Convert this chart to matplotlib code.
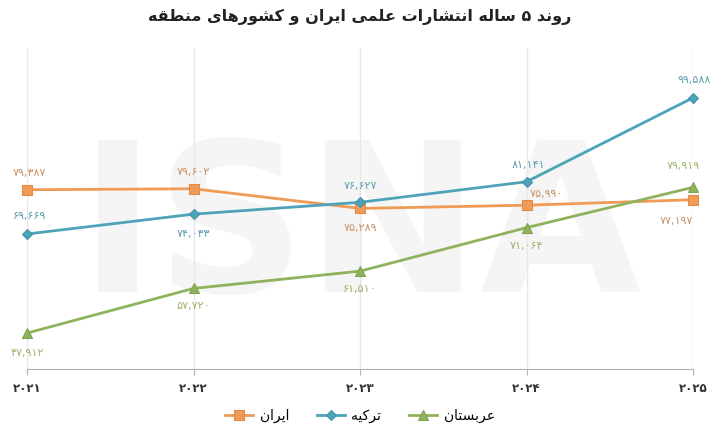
import matplotlib
matplotlib.use('Agg')
import matplotlib.pyplot as plt
import numpy as np

# data
years = [2021, 2022, 2023, 2024, 2025]
iran = [79387, 79602, 75289, 75990, 77197]
turkey = [69669, 74033, 76627, 81141, 99588]
saudi = [47912, 57720, 61510, 71064, 79919]

title = 'روند ۵ ساله انتشارات علمی ایران و کشورهای منطقه'
names = ['ایران', 'ترکیه', 'عربستان']

# minimal arabic shaping (matplotlib has no text shaping)
FORMS = {  # isolated, final, initial, medial
    'ا': ('\uFE8D', '\uFE8E', None, None),
    'ب': ('\uFE8F', '\uFE90', '\uFE91', '\uFE92'),
    'ت': ('\uFE95', '\uFE96', '\uFE97', '\uFE98'),
    'د': ('\uFEA9', '\uFEAA', None, None),
    'ر': ('\uFEAD', '\uFEAE', None, None),
    'س': ('\uFEB1', '\uFEB2', '\uFEB3', '\uFEB4'),
    'ش': ('\uFEB5', '\uFEB6', '\uFEB7', '\uFEB8'),
    'ط': ('\uFEC1', '\uFEC2', '\uFEC3', '\uFEC4'),
    'ع': ('\uFEC9', '\uFECA', '\uFECB', '\uFECC'),
    'ق': ('\uFED5', '\uFED6', '\uFED7', '\uFED8'),
    'ک': ('\uFB8E', '\uFB8F', '\uFB90', '\uFB91'),
    'ل': ('\uFEDD', '\uFEDE', '\uFEDF', '\uFEE0'),
    'م': ('\uFEE1', '\uFEE2', '\uFEE3', '\uFEE4'),
    'ن': ('\uFEE5', '\uFEE6', '\uFEE7', '\uFEE8'),
    'ه': ('\uFEE9', '\uFEEA', '\uFEEB', '\uFEEC'),
    'و': ('\uFEED', '\uFEEE', None, None),
    'ی': ('\uFBFC', '\uFBFD', '\uFBFE', '\uFBFF'),
}


def shape(s):
    out = []
    for i, c in enumerate(s):
        if c not in FORMS:
            out.append(c)
            continue
        prev = s[i - 1] if i > 0 else ''
        nxt = s[i + 1] if i + 1 < len(s) else ''
        jp = prev in FORMS and FORMS[prev][2] is not None
        jn = nxt in FORMS and FORMS[c][2] is not None
        iso, fin, ini, med = FORMS[c]
        if jp and jn:
            out.append(med)
        elif jp:
            out.append(fin)
        elif jn:
            out.append(ini)
        else:
            out.append(iso)
    return ''.join(out[::-1])


def fa_num(v):
    return str(v).translate(str.maketrans('0123456789', '۰۱۲۳۴۵۶۷۸۹'))


def fa_fmt(v):
    return fa_num(f'{v:,}')


plt.rcParams['font.family'] = ['DejaVu Sans']

fig = plt.figure(figsize=(7.2, 4.41), dpi=100)
ax = fig.add_axes([0.0375, 0.163, 0.925, 0.728])

# watermark
ax.text(0.5, 0.42, 'ISNA', transform=ax.transAxes, ha='center', va='center',
        fontsize=150, fontweight='bold', color='#f5f5f5', zorder=0)

series = [
    (iran, 's', '#ef9b58', '#e08a45', '#c99469', 6.5),
    (turkey, 'D', '#4ea3b9', '#3f94aa', '#5e9db2', 5.5),
    (saudi, '^', '#8fb35c', '#7fa34c', '#9cb56e', 7),
]
# label offsets in points (dx, dy)
offsets = [
    [(2, 12), (0, 12), (0, -14), (14, 8), (-12, -15)],
    [(2, 13), (0, -14), (0, 12), (1, 12), (1, 13)],
    [(0, -14), (0, -13), (0, -13), (0, -13), (-7, 15)],
]

for (vals, mk, col, edge, lcol, ms), offs, name in zip(series, offsets, names):
    ax.plot(years, vals, color=col, lw=2, marker=mk, ms=ms, mfc=col, mec=edge,
            mew=0.8, label=shape(name), zorder=3, clip_on=False)
    for x, v, (dx, dy) in zip(years, vals, offs):
        ax.annotate(fa_fmt(v), (x, v), xytext=(dx, dy), textcoords='offset points',
                    ha='center', va='center', fontsize=8, color=lcol, zorder=4)

ax.set_xlim(2021, 2025)
ax.set_ylim(40000, 110500)
ax.set_xticks(years)
ax.set_xticklabels([fa_num(y) for y in years], fontsize=8.5, fontweight='bold', color='#333333')
ax.set_yticks([])
ax.grid(axis='x', color='#e8e8e8', lw=1, zorder=1)
for sp in ['top', 'right', 'left']:
    ax.spines[sp].set_visible(False)
ax.spines['bottom'].set_color('#b0b0b0')
ax.tick_params(axis='x', length=4, color='#b0b0b0', pad=5)

fig.text(0.5, 0.962, shape(title), ha='center', va='center', fontsize=11.5,
         fontweight='bold', color='#222222')

ax.legend(loc='center', bbox_to_anchor=(0.5, -0.145), ncol=3, frameon=False,
          fontsize=10, handlelength=2, columnspacing=2, handletextpad=0.5)

fig.savefig('out.png', dpi=100)
